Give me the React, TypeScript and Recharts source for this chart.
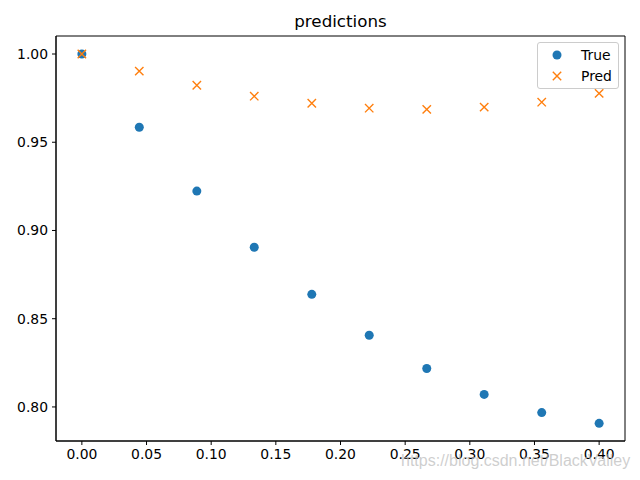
import React from "react";
import {
  ScatterChart,
  Scatter,
  XAxis,
  YAxis,
  ReferenceArea,
} from "recharts";

// x positions (linspace 0..0.4, 10 points)
const xValues = [0, 0.0444, 0.0889, 0.1333, 0.1778, 0.2222, 0.2667, 0.3111, 0.3556, 0.4];
const trueValues = [1.0, 0.9585, 0.9223, 0.8905, 0.8638, 0.8406, 0.8218, 0.8071, 0.7968, 0.7907];
const predValues = [1.0, 0.9903, 0.9823, 0.9761, 0.9721, 0.9693, 0.9686, 0.9699, 0.9727, 0.9777];

const xTicks = [0, 0.05, 0.1, 0.15, 0.2, 0.25, 0.3, 0.35, 0.4];
const yTicks = [0.8, 0.85, 0.9, 0.95, 1.0];

const trueData = xValues.map((x, i) => ({ x, y: trueValues[i] }));
const predData = xValues.map((x, i) => ({ x, y: predValues[i] }));

const BLUE = "#1f77b4";
const ORANGE = "#ff7f0e";
const FONT = "'DejaVu Sans', sans-serif";

const Dot = (props: any) => {
  const { cx, cy } = props;
  if (cx == null || cy == null) return null;
  return <circle cx={cx} cy={cy} r={4.5} fill={BLUE} />;
};

const Cross = (props: any) => {
  const { cx, cy } = props;
  if (cx == null || cy == null) return null;
  const d = 4.2;
  return (
    <path
      d={`M${cx - d},${cy - d}L${cx + d},${cy + d}M${cx - d},${cy + d}L${cx + d},${cy - d}`}
      stroke={ORANGE}
      strokeWidth={1.4}
      fill="none"
    />
  );
};

const LegendBox = () => (
  <div
    style={{
      position: "absolute",
      left: 537,
      top: 42,
      width: 80,
      height: 45,
      border: "1px solid #cccccc",
      borderRadius: 3,
      background: "rgba(255,255,255,0.8)",
    }}
  >
    <svg width={80} height={45} style={{ position: "absolute", left: 0, top: 0 }}>
      <circle cx={19} cy={12} r={4.5} fill={BLUE} />
      <path d="M14.8,28.8L23.2,37.2M14.8,37.2L23.2,28.8" stroke={ORANGE} strokeWidth={1.4} />
      <text x={43} y={17} fontSize={13.9} fontFamily={FONT}>True</text>
      <text x={43} y={38} fontSize={13.9} fontFamily={FONT}>Pred</text>
    </svg>
  </div>
);

export default function App() {
  const tick = { fontSize: 13.9, fill: "#000", fontFamily: FONT };
  return (
    <div style={{ position: "absolute", left: 0, top: 0, width: 640, height: 480, background: "#fff" }}>
      <div
        style={{
          position: "absolute",
          top: 11,
          left: 56,
          width: 569,
          textAlign: "center",
          fontFamily: FONT,
          fontSize: 16.7,
          color: "#000",
        }}
      >
        predictions
      </div>
      <ScatterChart width={640} height={480} margin={{ top: 36, right: 15, bottom: 0, left: 6 }}>
        <XAxis
          type="number"
          dataKey="x"
          domain={[-0.02, 0.42]}
          ticks={xTicks}
          tickFormatter={(v: number) => v.toFixed(2)}
          tick={tick}
          tickSize={4}
          tickMargin={4}
          height={39}
          stroke="#000"
          allowDataOverflow
        />
        <YAxis
          type="number"
          dataKey="y"
          domain={[0.7807, 1.0102]}
          ticks={yTicks}
          tickFormatter={(v: number) => v.toFixed(2)}
          tick={tick}
          tickSize={4}
          tickMargin={4}
          width={50}
          stroke="#000"
          allowDataOverflow
        />
        <ReferenceArea x1={-0.02} x2={0.42} y1={0.7807} y2={1.0102} fill="none" stroke="#000" strokeOpacity={1} />
        <Scatter name="True" data={trueData} fill={BLUE} shape={Dot} isAnimationActive={false} />
        <Scatter name="Pred" data={predData} fill={ORANGE} shape={Cross} isAnimationActive={false} />
      </ScatterChart>
      <LegendBox />
      <div
        style={{
          position: "absolute",
          left: 401,
          top: 452,
          fontFamily: "'Liberation Sans', Arial, sans-serif",
          fontSize: 16,
          color: "rgba(190,190,190,0.75)",
          whiteSpace: "nowrap",
        }}
      >
        https://blog.csdn.net/BlackValley
      </div>
    </div>
  );
}
